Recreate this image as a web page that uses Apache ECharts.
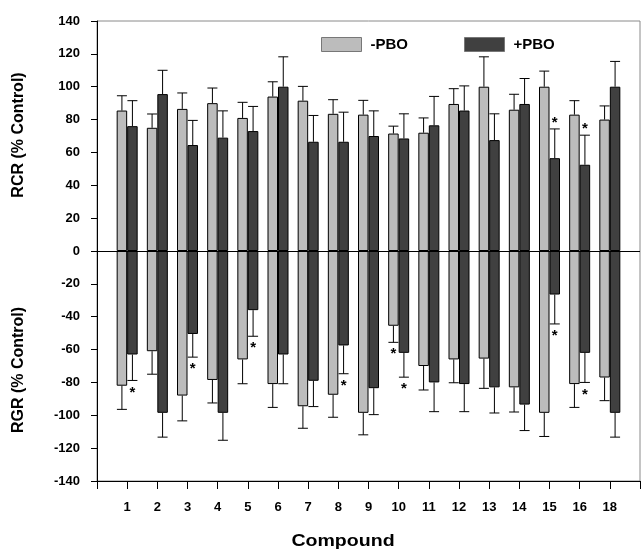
<!DOCTYPE html>
<html>
<head>
<meta charset="utf-8">
<script src="https://cdn.jsdelivr.net/npm/echarts@6/dist/echarts.min.js"></script>
<style>
html,body{margin:0;padding:0;background:#fff;}
#chart{width:641px;height:552px;}
</style>
</head>
<body>
<div id="chart"></div>
<script>
// ---- data ----
const categories = ['1','2','3','4','5','6','7','8','9','10','11','12','13','14','15','16','18'];
// RCR (% control), positive part
const rcrMinus    = [85.5, 75, 86.5, 90, 81, 94, 91.5, 83.5, 83, 71.5, 72, 89.5, 100, 86, 100, 83, 80];
const rcrMinusErr = [9, 8.4, 9.7, 9.2, 9.5, 9, 8.7, 8.6, 8.7, 4.5, 9, 9.3, 18.2, 9.4, 9.5, 8.5, 8.3];
const rcrPlus     = [76, 95.5, 64.5, 69, 73, 100, 66.5, 66.5, 70, 68.5, 76.5, 85.5, 67.5, 89.5, 56.5, 52.5, 100];
const rcrPlusErr  = [15.5, 14.5, 15, 16.3, 15, 18.2, 16, 18, 15.3, 15, 17.6, 15, 16, 15.5, 17.8, 18, 15.4];
// RGR (% control), negative part
const rgrMinus    = [-82, -61, -88, -78.5, -66, -81, -94.5, -87.5, -98.5, -45.5, -70, -66, -65.5, -83, -98.5, -81, -77];
const rgrMinusErr = [14.4, 14, 15.4, 14, 14.8, 14.2, 13.4, 13.7, 13.4, 10.1, 14.6, 14.2, 18.1, 15, 14.4, 14.2, 14.1];
const rgrPlus     = [-63, -98.5, -50.5, -98.5, -36, -63, -79, -57.5, -83.5, -62, -80, -81, -83, -93.5, -26.5, -62, -98.5];
const rgrPlusErr  = [15.8, 14.8, 14.1, 16.7, 15.9, 17.8, 15.7, 17.2, 16.1, 14.8, 17.8, 16.8, 15.6, 15.8, 17.9, 18, 14.8];
// significance markers (*)
const starsRcrMinus = [];
const starsRcrPlus  = ['15','16'];
const starsRgrMinus = ['10'];
const starsRgrPlus  = ['1','3','5','8','10','15','16'];
const yTicks = [-140,-120,-100,-80,-60,-40,-20,0,20,40,60,80,100,120,140];

// ---- build ----
const axisCats = [''].concat(categories).concat(['']);
const pad = arr => ['-'].concat(arr).concat(['-']);
const BW = 10.5;
const lightColor = '#bcbcbc';
const darkColor = '#404040';
const font = '"Liberation Sans", Arial, sans-serif';

function errData(vals, errs, stars) {
  return vals.map((v, i) => [i + 1, v, errs[i], stars.indexOf(categories[i]) >= 0 ? 1 : 0]);
}
function makeErr(offset) {
  return function (params, api) {
    const idx = api.value(0), v = api.value(1), e = api.value(2), star = api.value(3);
    const sign = v >= 0 ? 1 : -1;
    const p0 = api.coord([idx, v]);
    const p1 = api.coord([idx, v + sign * e]);
    const x = p0[0] + offset;
    const st = {stroke: '#000', lineWidth: 1};
    const children = [
      {type: 'line', shape: {x1: x, y1: p0[1], x2: x, y2: p1[1]}, style: st},
      {type: 'line', shape: {x1: x - 5, y1: p1[1], x2: x + 5, y2: p1[1]}, style: st}
    ];
    if (star) {
      children.push({type: 'text', style: {
        text: '*', x: x, y: p1[1] - sign * (sign > 0 ? 6 : 12), align: 'center', verticalAlign: 'middle',
        font: 'bold 15px ' + font, fill: '#000'}});
    }
    return {type: 'group', children: children};
  };
}
function barSeries(name, vals, stack, color) {
  return {
    name: name, type: 'bar', stack: stack, data: pad(vals), barWidth: BW, barGap: '0%',
    itemStyle: {color: color, borderColor: '#000', borderWidth: 1},
    emphasis: {disabled: true}, animation: false
  };
}
function errSeries(vals, errs, stars, offset) {
  return {
    type: 'custom', renderItem: makeErr(offset), data: errData(vals, errs, stars),
    encode: {x: 0, y: [1]}, z: 5, animation: false, silent: true
  };
}

const chart = echarts.init(document.getElementById('chart'));
const legendText = {fontFamily: font, fontWeight: 'bold', fontSize: 15, color: '#000', padding: [0,0,0,4]};
const option = {
  animation: false,
  grid: {left: 97, right: 1, top: 21, bottom: 71, containLabel: false, outerBoundsMode: 'none',
         show: true, borderColor: '#8a8a8a', borderWidth: 1},
  legend: [
    {data: ['-PBO'], left: 316, top: 32, itemWidth: 40, itemHeight: 14, icon: 'rect',
     itemStyle: {borderColor: '#777', borderWidth: 1}, textStyle: legendText, selectedMode: false},
    {data: ['+PBO'], left: 459, top: 32, itemWidth: 40, itemHeight: 14, icon: 'rect',
     itemStyle: {borderColor: '#777', borderWidth: 1}, textStyle: legendText, selectedMode: false}
  ],
  xAxis: {
    type: 'category', data: axisCats, boundaryGap: false,
    axisLine: {onZero: false, lineStyle: {color: '#000', width: 1}},
    axisTick: {show: true, length: 8, inside: false, lineStyle: {color: '#000'}},
    axisLabel: {margin: 20, fontFamily: font, fontWeight: 'bold', fontSize: 13, color: '#000', interval: 0},
    splitLine: {show: false}
  },
  yAxis: {
    type: 'value', min: -140, max: 140, interval: 20,
    axisLine: {show: true, lineStyle: {color: '#000', width: 1}},
    axisTick: {show: true, length: 6, lineStyle: {color: '#000'}},
    axisLabel: {margin: 17, fontFamily: font, fontWeight: 'bold', fontSize: 13, color: '#000',
      formatter: v => yTicks.indexOf(v) >= 0 ? String(v) : ''},
    splitLine: {show: false}
  },
  graphic: [
    {type: 'text', style: {text: 'RCR (% Control)', font: 'bold 16px ' + font, fill: '#000', align: 'center', verticalAlign: 'middle'},
     x: 19, y: 135, rotation: Math.PI / 2},
    {type: 'text', style: {text: 'RGR (% Control)', font: 'bold 16px ' + font, fill: '#000', align: 'center', verticalAlign: 'middle'},
     x: 19, y: 370, rotation: Math.PI / 2},
    {type: 'text', style: {text: 'Compound', font: 'bold 17px ' + font, fill: '#000', align: 'center', verticalAlign: 'middle'},
     x: 343, y: 541, scaleX: 1.15}
  ],
  series: [
    Object.assign(barSeries('-PBO', rcrMinus, 'minus', lightColor), {
      markLine: {silent: true, symbol: 'none', label: {show: false}, lineStyle: {color: '#000', width: 1, type: 'solid'},
        data: [{yAxis: 0}]}
    }),
    barSeries('+PBO', rcrPlus, 'plus', darkColor),
    barSeries('-PBO', rgrMinus, 'minus', lightColor),
    barSeries('+PBO', rgrPlus, 'plus', darkColor),
    errSeries(rcrMinus, rcrMinusErr, starsRcrMinus, -BW / 2),
    errSeries(rcrPlus, rcrPlusErr, starsRcrPlus, BW / 2),
    errSeries(rgrMinus, rgrMinusErr, starsRgrMinus, -BW / 2),
    errSeries(rgrPlus, rgrPlusErr, starsRgrPlus, BW / 2)
  ]
};
chart.setOption(option);
</script>
</body>
</html>
